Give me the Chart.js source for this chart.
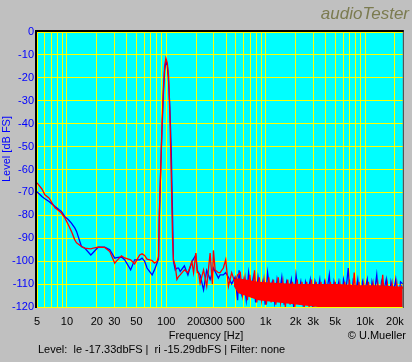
<!DOCTYPE html>
<html>
<head>
<meta charset="utf-8">
<script src="https://cdn.jsdelivr.net/npm/chart.js@4"></script>
<style>
  html, body { margin: 0; padding: 0; background: #c0c0c0; }
  #wrap { width: 412px; height: 362px; }
</style>
</head>
<body>
<div id="wrap"><canvas id="fftChart" width="412" height="362"></canvas></div>
<script>
// smooth part of the spectrum (Hz / dBFS)
const lowFreq = [5, 5.6, 6.0, 6.6, 7.6, 8.3, 8.8, 9.5, 10.3, 11.1, 12, 12.5, 14, 15.1, 17.4, 18.4, 20.6, 24, 27, 30.3,
    31.5, 35.4, 38.1, 43.8, 48, 54, 57, 60.5, 64, 72, 76, 80.5, 83.6, 85, 87.6, 90.3, 93.3, 96.1, 99, 102.3,
    105.5, 108.7, 112.2, 115.6, 118, 123, 128, 133, 138, 152, 165, 181, 188, 198, 205, 211, 219, 237, 255, 276,
    291, 298, 310, 334, 348, 375, 396, 422, 455, 492, 522];
const leftLow = [-69.7, -71.8, -72.8, -74.0, -76.2, -77.5, -78.3, -80.5, -81.8, -83.4, -85.5, -87, -93.6, -94.3, -97.3, -96.2, -93.9, -93.9, -95, -98.7,
    -98.5, -98.2, -99.4, -103.8, -99.4, -99.4, -98.7, -100, -103, -106, -103.8, -100.9, -99, -82, -62, -44, -28, -17, -12.8, -14.5,
    -22, -33, -52, -80, -100, -103.8, -103, -103, -104.5, -102, -106, -100.2, -99, -97.3, -104, -105, -106, -112.5, -104, -108,
    -105, -103, -104.5, -107.4, -106, -106, -105, -107, -110, -107, -117];
const rightLow = [-65.8, -68.5, -71, -72.4, -76.7, -78, -79, -81, -84, -87, -90.7, -92, -93.6, -94.3, -94.6, -94.3, -93.9, -94, -95.8, -100.9,
    -100, -97.7, -98.6, -99.4, -101.2, -97.3, -96.8, -97.5, -99.1, -99.7, -100.9, -100.2, -98, -79, -61.5, -41.8, -25.2, -15, -11.4, -13.5,
    -19.4, -36.9, -63, -90.7, -99.4, -102, -108, -106.7, -106, -103.8, -105, -100.2, -105, -96.5, -105, -105, -109.6, -103.8, -111, -96.5,
    -110, -95.3, -103.8, -105, -105, -103, -99.4, -111, -105, -109.6, -106];

// noise floor above ~500 Hz
const leftNoiseFreq = [540, 570, 603, 637, 673, 711, 751, 793, 838, 886, 936, 989, 1045, 1104, 1166, 1232, 1302, 1375, 1453, 1535,
    1622, 1714, 1811, 1913, 2021, 2135, 2256, 2384, 2518, 2661, 2811, 2970, 3138, 3315, 3503, 3701, 3910, 4131, 4365, 4611,
    4872, 5147, 5438, 5746, 6070, 6414, 6776, 7159, 7564, 7992, 8443, 8921, 9425, 9958, 10520, 11115, 11743, 12407, 13108, 13849,
    14632, 15459, 16333, 17256, 18231, 19262, 20350, 21501, 22716, 24000];
const leftNoise = [-104, -114, -108, -117, -105, -113, -107, -118, -107, -114, -109, -119, -105, -113, -109, -118, -108, -114, -107, -119,
    -109, -113, -108, -120, -106, -114, -109, -119, -109, -113, -108, -120, -109, -114, -108, -120, -109, -113, -106, -120,
    -109, -114, -109, -120, -108, -113, -103, -120, -109, -114, -108, -120, -109, -113, -108, -120, -109, -114, -106, -120,
    -109, -113, -108, -120, -109, -114, -108, -120, -109, -110];
const rightNoiseFreq = [555, 586, 620, 655, 692, 731, 772, 815, 861, 910, 962, 1016, 1074, 1134, 1198, 1266, 1338, 1413, 1493, 1578,
    1667, 1761, 1861, 1966, 2077, 2195, 2319, 2450, 2588, 2735, 2889, 3053, 3225, 3408, 3600, 3804, 4019, 4246, 4486, 4740,
    5008, 5291, 5590, 5906, 6240, 6593, 6965, 7359, 7775, 8215, 8679, 9170, 9688, 10236, 10814, 11426, 12071, 12754, 13475, 14237,
    15042, 15892, 16791, 17740, 18743, 19803, 20922, 22105, 23355, 24000];
const rightNoise = [-105, -115, -107, -117, -106, -116, -104, -118, -107, -117, -108, -119, -107, -118, -108, -119, -107, -118, -109, -120,
    -108, -119, -109, -120, -108, -119, -109, -120, -109, -120, -108, -120, -109, -120, -109, -120, -110, -120, -109, -120,
    -109, -120, -110, -120, -109, -120, -108, -120, -105, -120, -109, -120, -110, -120, -109, -120, -110, -120, -110, -120,
    -106, -120, -110, -120, -110, -120, -110, -120, -111, -112];

// dense red band of the right channel noise
const bandFreq = [480, 531, 843, 1337, 2123, 3369, 5346, 8484, 13460, 21360, 24000];
const bandTop = [-108, -107.5, -109, -109.5, -110, -110, -110, -110.5, -110.5, -111, -111];
const bandBottom = [-111, -114, -117, -118, -119, -120, -120, -120, -120, -120, -120];

const xTickValues = [5, 10, 20, 30, 50, 100, 200, 300, 500, 1000, 2000, 3000, 5000, 10000, 20000];
const xTickLabels = ['5', '10', '20', '30', '50', '100', '200', '300', '500', '1k', '2k', '3k', '5k', '10k', '20k'];

const FONT = '"Liberation Sans", Arial, sans-serif';

function pts(xs, ys) {
    return xs.map((x, i) => ({ x: x, y: ys[i] }));
}

const leftData = pts(lowFreq, leftLow).concat(pts(leftNoiseFreq, leftNoise));
const rightData = pts(lowFreq, rightLow).concat(pts(rightNoiseFreq, rightNoise));

// grid lines at 1..9 of every decade
function gridValues() {
    const vals = [];
    for (let d = 1; d <= 10000; d *= 10) {
        for (let m = 1; m <= 9; m++) {
            const v = m * d;
            if (v >= 5 && v <= 24000) vals.push(v);
        }
    }
    return vals;
}

const frame = {
    id: 'frame',
    beforeDraw(chart) {
        const { ctx, chartArea: a } = chart;
        ctx.save();
        ctx.fillStyle = '#00ffff';
        ctx.fillRect(a.left, a.top, a.right - a.left, a.bottom - a.top);
        ctx.restore();
    },
    afterDraw(chart) {
        const { ctx, chartArea: a } = chart;
        ctx.save();
        ctx.strokeStyle = '#000000';
        ctx.lineWidth = 2;
        ctx.beginPath();
        ctx.moveTo(a.left - 1, a.bottom + 1);
        ctx.lineTo(a.left - 1, a.top - 1);
        ctx.lineTo(a.right + 1, a.top - 1);
        ctx.stroke();
        ctx.lineWidth = 1;
        ctx.strokeStyle = '#404040';
        ctx.beginPath();
        ctx.moveTo(a.right + 0.5, a.top);
        ctx.lineTo(a.right + 0.5, a.bottom + 1);
        ctx.stroke();

        ctx.fillStyle = '#7b7b50';
        ctx.font = 'italic 17px ' + FONT;
        ctx.textAlign = 'right';
        ctx.textBaseline = 'alphabetic';
        ctx.fillText('audioTester', 409, 19);

        ctx.fillStyle = '#000000';
        ctx.font = '11px ' + FONT;
        ctx.textAlign = 'center';
        ctx.textBaseline = 'middle';
        ctx.fillText('Frequency [Hz]', 206, 336);
        ctx.textAlign = 'right';
        ctx.fillText('\u00A9 U.Mueller', 406, 336);
        ctx.textAlign = 'left';
        ctx.fillText('Level:  le -17.33dbFS |  ri -15.29dbFS | Filter: none', 38, 350);

        ctx.fillStyle = '#0000ff';
        ctx.translate(7, 149);
        ctx.rotate(-Math.PI / 2);
        ctx.textAlign = 'center';
        ctx.fillText('Level [dB FS]', 0, 0);
        ctx.restore();
    }
};

new Chart(document.getElementById('fftChart'), {
    type: 'line',
    data: {
        datasets: [
            {
                label: 'right',
                data: rightData,
                borderColor: '#ff0000',
                borderWidth: 1.3,
                pointRadius: 0,
                tension: 0,
                fill: false,
                order: 0
            },
            {
                label: 'band top',
                data: pts(bandFreq, bandTop),
                borderWidth: 0,
                borderColor: 'rgba(0,0,0,0)',
                backgroundColor: '#ff0000',
                pointRadius: 0,
                fill: '+1',
                order: 1
            },
            {
                label: 'band bottom',
                data: pts(bandFreq, bandBottom),
                borderWidth: 0,
                borderColor: 'rgba(0,0,0,0)',
                pointRadius: 0,
                fill: false,
                order: 1
            },
            {
                label: 'left',
                data: leftData,
                borderColor: '#0000ff',
                borderWidth: 1.3,
                pointRadius: 0,
                tension: 0,
                fill: false,
                order: 2
            }
        ]
    },
    options: {
        responsive: false,
        animation: false,
        events: [],
        layout: { padding: { top: 32, right: 7, left: 0, bottom: 0 } },
        plugins: {
            legend: { display: false },
            tooltip: { enabled: false }
        },
        scales: {
            x: {
                type: 'logarithmic',
                min: 5,
                max: 24000,
                afterBuildTicks(scale) {
                    scale.ticks = gridValues().map(v => ({ value: v }));
                },
                afterFit(scale) { scale.height = 55; },
                grid: { color: '#ffff00', lineWidth: 1, drawTicks: false },
                border: { display: false },
                ticks: {
                    autoSkip: false,
                    maxRotation: 0,
                    padding: 8,
                    color: '#000000',
                    font: { family: FONT, size: 11 },
                    callback(value) {
                        const i = xTickValues.indexOf(value);
                        return i >= 0 ? xTickLabels[i] : '';
                    }
                }
            },
            y: {
                min: -120,
                max: 0,
                afterFit(scale) { scale.width = 37; },
                grid: { color: '#ffff00', lineWidth: 1, drawTicks: false },
                border: { display: false },
                ticks: {
                    stepSize: 10,
                    padding: 3,
                    color: '#0000ff',
                    font: { family: FONT, size: 11 }
                }
            }
        }
    },
    plugins: [frame]
});
</script>
</body>
</html>
